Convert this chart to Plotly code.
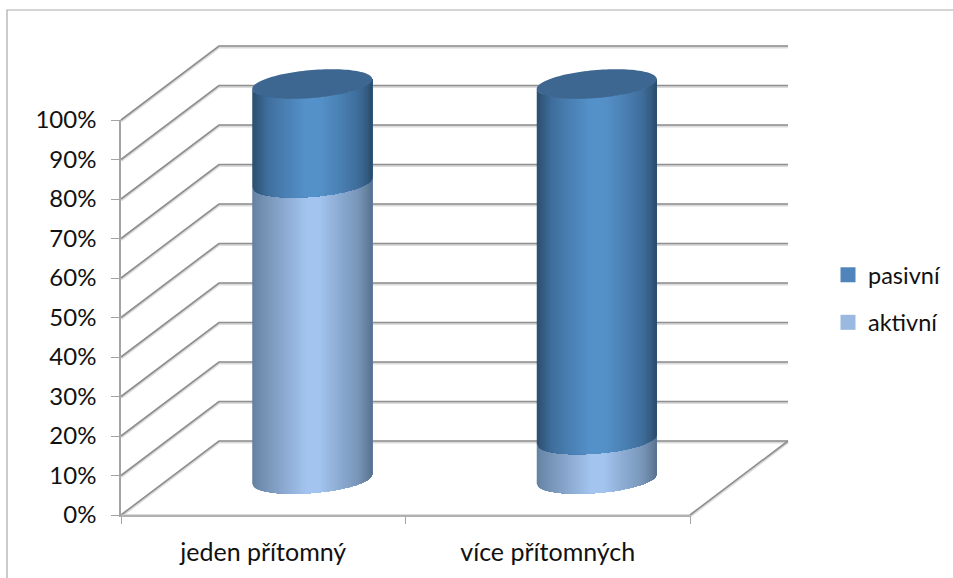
import numpy as np
import plotly.graph_objects as go

# ---- data -------------------------------------------------------------
categories = ["jeden přítomný", "více přítomných"]
aktivni = [75, 10]
pasivni = [25, 90]
series_names = ["pasivní", "aktivní"]
y_ticks = [0, 10, 20, 30, 40, 50, 60, 70, 80, 90, 100]
y_labels = ["0%", "10%", "20%", "30%", "40%", "50%", "60%", "70%", "80%", "90%", "100%"]

# ---- figure geometry (px) ----------------------------------------------
W, H = 953, 578
L, R, T, B = 121, 690, 120, 515
MT, MB = 20, 20           # vertical margins of the plotting region
px_x = (R - L) / 2        # px per category
px_y = (B - T) / 100      # px per percent


def fy(p):
    """page pixel row -> paper fraction"""
    return (H - MB - p) / (H - MT - MB)


# ---- oblique projection (data units) -----------------------------------
DX = 98 / px_x            # depth offset in category units
DY = 74 / px_y            # depth offset in percent units
RX = 60 / px_x            # cylinder radius
RY = 14 / px_y            # ellipse half-height
TILT = 4.8 / px_y         # ellipse shear
XDEPTH = 0.5 * DX         # cylinder axis depth
YDEPTH = 36 / px_y

LINE = "#8f8f8f"
HALO = "rgba(190,190,190,0.55)"
AXIS = "#a3a3a3"

STOPS_U = [-1.0, -0.92, -0.75, -0.45, -0.1, 0.12, 0.45, 0.75, 0.92, 1.0]
DARK = ["#2c4e6e", "#32587d", "#3f6e9c", "#4a80b3", "#5591c9", "#5591c9",
        "#4b81b5", "#3f6e9c", "#335a7f", "#2a4a68"]
LIGHT = ["#64809f", "#6c89ab", "#7896b8", "#8dabd2", "#a2c4ee", "#a2c4ee",
         "#8cabd3", "#7a97ba", "#64809e", "#566f8c"]
CAP = "#3d6791"
LEG_DARK = "#4f85bb"
LEG_LIGHT = "#9ab9e0"


def hex2rgb(h):
    return np.array([int(h[i:i + 2], 16) for i in (1, 3, 5)], float)


def shade(stops, u):
    arr = np.array([hex2rgb(c) for c in stops])
    rgb = [np.interp(u, STOPS_U, arr[:, j]) for j in range(3)]
    return "rgb(%d,%d,%d)" % tuple(int(round(c)) for c in rgb)


fig = go.Figure()
x_lo, x_hi = -0.5, len(categories) - 0.5


def line(xs, ys, color, width):
    # drawing axes x3/y3 fill the region, at the same scale as the front axes
    fig.add_trace(go.Scatter(x=xs, y=ys, xaxis="x3", yaxis="y3", mode="lines",
                             line=dict(color=color, width=width),
                             hoverinfo="skip", showlegend=False))


# carriers that keep the front axes on the page
fig.add_trace(go.Scatter(x=[x_lo, x_hi], y=[0, 0], mode="lines",
                         line=dict(color="rgba(0,0,0,0)"), hoverinfo="skip",
                         showlegend=False))
fig.add_trace(go.Scatter(x=[x_lo, x_hi], y=[0, 0], xaxis="x2", mode="lines",
                         line=dict(color="rgba(0,0,0,0)"), hoverinfo="skip",
                         showlegend=False))

# wall and floor lines, from the value ticks
for color, width, off in ((HALO, 3.0, -0.25), (LINE, 1.6, 0)):
    for v in y_ticks:
        line([x_lo, x_lo + DX, x_hi + DX],
             [v + off, v + DY + off, v + DY + off], color, width)
    line([x_hi, x_hi + DX], [off, DY + off], color, width)
line([x_lo, x_hi], [-0.15, -0.15], HALO, 3)


def segment(cx, v0, v1, stops):
    us = np.linspace(-1, 1, 81)
    # painter's order: each strip runs on to the right edge, the next covers it
    for k in range(len(us) - 1):
        ua = us[k:]
        front = TILT * ua - RY * np.sqrt(np.clip(1 - ua ** 2, 0, None))
        xx = cx + RX * ua
        col = shade(stops, (us[k] + us[k + 1]) / 2)
        fig.add_trace(go.Scatter(
            x=np.r_[xx, xx[::-1], xx[0]],
            y=np.r_[YDEPTH + v0 + front, (YDEPTH + v1 + front)[::-1], YDEPTH + v0 + front[0]],
            xaxis="x3", yaxis="y3",
            mode="none", fill="toself", fillcolor=col,
            hoverinfo="skip", showlegend=False))


# cylinders, drawn from the series values
for i in range(len(categories)):
    cx = i + XDEPTH
    a, p = aktivni[i], pasivni[i]
    segment(cx, 0, a, LIGHT)
    segment(cx, a, a + p, DARK)
    t = np.linspace(0, 2 * np.pi, 121)
    fig.add_trace(go.Scatter(
        x=cx + RX * np.cos(t),
        y=YDEPTH + a + p + TILT * np.cos(t) + RY * np.sin(t),
        xaxis="x3", yaxis="y3",
        mode="none", fill="toself", fillcolor=CAP,
        hoverinfo="skip", showlegend=False))

# legend entries
for name, col in zip(series_names, (LEG_DARK, LEG_LIGHT)):
    fig.add_trace(go.Scatter(x=[None], y=[None], mode="markers", name=name,
                             legendgroup=name,
                             marker=dict(symbol="square", size=15, color=col)))

FAMILY = "Lato, Carlito, 'Open Sans', sans-serif"
YFONT = dict(family=FAMILY, size=24, color="#111111")
XFONT = dict(family=FAMILY, size=25, color="#111111")
LFONT = dict(family=FAMILY, size=23.5, color="#111111")

fig.update_layout(
    width=W, height=H, autosize=False,
    margin=dict(l=0, r=0, t=MT, b=MB, pad=0),
    paper_bgcolor="white", plot_bgcolor="rgba(0,0,0,0)",
    font=YFONT,
    hovermode=False,
    xaxis=dict(domain=[L / W, R / W], range=[x_lo, x_hi], tickmode="array",
               tickvals=list(range(len(categories))), ticktext=categories,
               showgrid=False, zeroline=False, showline=True,
               linecolor=AXIS, linewidth=1.6, ticks="",
               ticklabelstandoff=14, tickfont=XFONT),
    xaxis2=dict(domain=[L / W, R / W], range=[x_lo, x_hi], overlaying="x", anchor="y", side="bottom",
                tickmode="array", tickvals=[x_lo + k for k in range(len(categories) + 1)],
                showticklabels=False, showgrid=False, zeroline=False, showline=False,
                ticks="outside", ticklen=8, tickwidth=1.2, tickcolor=AXIS),
    yaxis=dict(domain=[fy(B), fy(T)], range=[0, 100], tickmode="array",
               tickvals=y_ticks, ticktext=y_labels,
               showgrid=False, zeroline=False, showline=True,
               linecolor=AXIS, linewidth=1.6,
               ticks="outside", ticklen=8, tickwidth=1.2, tickcolor=AXIS,
               ticklabelstandoff=10, tickfont=YFONT),
    xaxis3=dict(domain=[0, 1], anchor="y3", visible=False,
                range=[x_lo - L / px_x, x_lo + (W - L) / px_x]),
    yaxis3=dict(domain=[0, 1], anchor="x3", visible=False,
                range=[-(H - MB - B) / px_y, (B - MT) / px_y]),
    legend=dict(x=828 / W, y=fy(253),
                xanchor="left", yanchor="top", tracegroupgap=14,
                bgcolor="rgba(0,0,0,0)", font=LFONT, itemwidth=30),
    shapes=[dict(type="path", xref="paper", yref="paper", layer="below",
                 path="M %f,%f L %f,%f L %f,%f" % (
                     7 / W, fy(H), 7 / W, fy(10), 1, fy(10)),
                 line=dict(color="#a9a9a9", width=1.2))],
)

fig.write_html("out.html", config=dict(displayModeBar=False),
               post_script="document.body.style.margin='0';document.body.style.padding='0';")
